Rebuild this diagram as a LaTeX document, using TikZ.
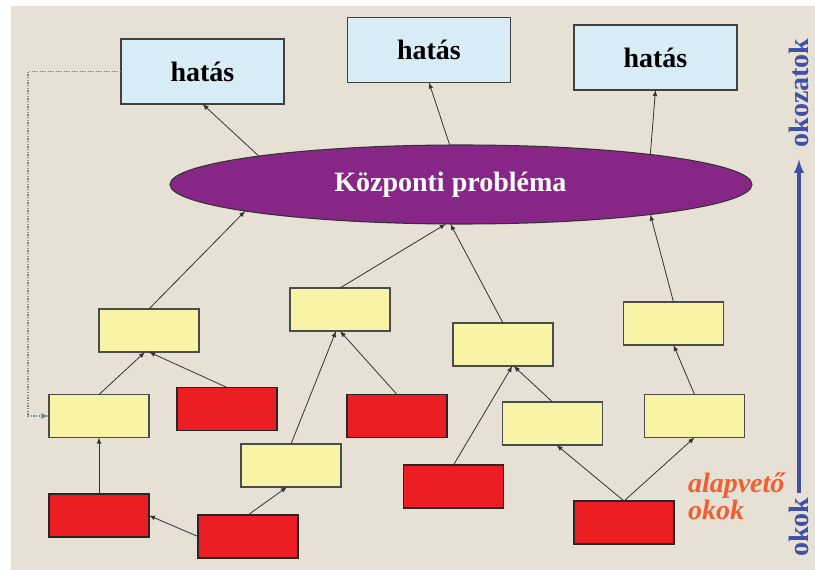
\documentclass[tikz,border=0pt]{standalone}
\usepackage{fontspec}
\setmainfont{Liberation Serif}
\usepackage{tikz}
\usetikzlibrary{shapes.geometric}
\definecolor{paper}{RGB}{230,224,213}
\definecolor{skyfill}{RGB}{216,236,246}
\definecolor{plum}{RGB}{136,38,136}
\definecolor{cream}{RGB}{248,243,165}
\definecolor{crimson}{RGB}{237,29,36}
\definecolor{inkblue}{RGB}{63,81,167}
\definecolor{ember}{RGB}{240,95,50}
\definecolor{dotgray}{RGB}{120,135,150}
\tikzset{
  font={\fontsize{21pt}{23}\selectfont\bfseries}}

\begin{document}
\begin{tikzpicture}[x=0.75pt,y=-0.75pt]
\tikzstyle{every node}+=[inner sep=0pt, outer sep=0pt]
\tikzstyle{effect}=[draw=black!75, line width=0.8pt, fill=skyfill, minimum width=122.25pt, minimum height=48.75pt]
\tikzstyle{core}=[ellipse, draw=black!80, line width=0.8pt, fill=plum, text=white, minimum width=436.5pt, minimum height=59.25pt]
\tikzstyle{cause}=[draw=black!70, line width=0.8pt, fill=cream, minimum width=75pt, minimum height=32.25pt]
\tikzstyle{root}=[draw=black!85, line width=0.8pt, fill=crimson, minimum width=75pt, minimum height=32.25pt]
\tikzstyle{link}=[draw=black!80, line width=0.6pt, -latex]
\fill [white] (0,0) rectangle (815,570);
\fill [paper] (11,6) rectangle (815,570);
\useasboundingbox (0,0) rectangle (815,570);
% effects on top
\node [effect] (H1) at (202.5,71.5) {hatás};
\node [effect] (H2) at (429,50) {hatás};
\node [effect] (H3) at (655.5,57.5) {hatás};
\node [core] (E) at (461,184.5) {Központi probléma\hspace*{16pt}};
% intermediate causes
\node [cause] (Y1) at (149,330.5) {};
\node [cause] (Y2) at (99,416) {};
\node [cause] (Y3) at (291,465.5) {};
\node [cause] (Y4) at (340,309.5) {};
\node [cause] (Y5) at (503,344.5) {};
\node [cause] (Y6) at (552.5,423.5) {};
\node [cause] (Y7) at (673.5,323.5) {};
\node [cause] (Y8) at (694.5,416) {};
% root causes
\node [root] (R1) at (227,409) {};
\node [root] (R2) at (99,515.5) {};
\node [root] (R3) at (248,536.5) {};
\node [root] (R4) at (397,416) {};
\node [root] (R5) at (453.5,486.5) {};
\node [root] (R6) at (624,522.5) {};
\node [text=ember, font={\fontsize{21pt}{20}\selectfont\bfseries\itshape}, align=left, anchor=north west] (lbl) at (688,473) {alapvető\\okok};
% side axis
\node [text=inkblue, rotate=90] (okok) at (799,527) {okok};
\node [text=inkblue, rotate=90] (okoz) at (799,93) {okozatok};
\draw [inkblue, line width=2.4pt, -latex, shorten <=3pt, shorten >=9pt] (okok.east) -- (okoz.west);
% links
\draw [link] (E.172.7) -- (H1.south);
\draw [link] (E.106.3) -- (H2.south);
\draw [link] (E.9.2) -- (H3.south);
\draw [link] (Y1.north) -- (E.187.2);
\draw [link] (Y4.north) -- (E.249.2);
\draw [link] (Y5.north) -- (E.255.8);
\draw [link] (Y7.north) -- (E.351);
\draw [link] (Y2.north) -- ([xshift=-3pt]Y1.south);
\draw [link] (R1.north) -- (Y1.south);
\draw [link] (R2.north) -- (Y2.south);
\draw [link] (R3.west) -- (R2.east);
\draw [link] (R3.north) -- ([xshift=-3pt]Y3.south);
\draw [link] (Y3.north) -- ([xshift=-3pt]Y4.south);
\draw [link] (R4.north) -- (Y4.south);
\draw [link] (R5.north) -- ([xshift=7pt]Y5.south);
\draw [link] (Y6.north) -- ([xshift=8pt]Y5.south);
\draw [link] (R6.north) -- ([xshift=3pt]Y6.south);
\draw [link] (R6.north) -- (Y8.south);
\draw [link] (Y8.north) -- (Y7.south);
% feedback
\coordinate (fb) at (28,416);
\draw [dotgray, line width=1pt, densely dotted, -latex] (H1.west) -| (fb) -- (Y2.west);
\end{tikzpicture}
\end{document}
